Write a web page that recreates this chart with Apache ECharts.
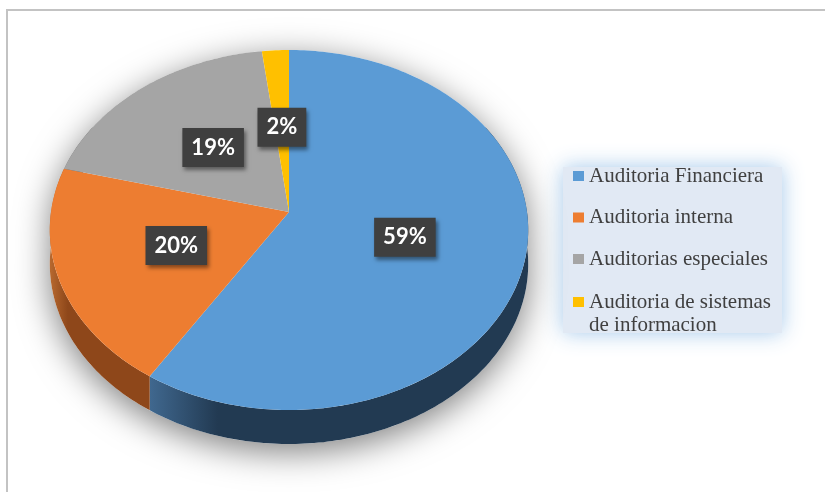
<!DOCTYPE html>
<html>
<head>
<meta charset="utf-8">
<script src="https://cdn.jsdelivr.net/npm/echarts@6/dist/echarts.min.js"></script>
<style>
  html, body { margin: 0; padding: 0; background: #fff; }
  #chart { width: 825px; height: 492px; }
</style>
</head>
<body>
<div id="chart"></div>
<script>
// data
var names = ['Auditoria Financiera', 'Auditoria interna', 'Auditorias especiales', 'Auditoria de sistemas de informacion'];
var values = [59, 20, 19, 2];
var colors = ['#5B9BD5', '#ED7D31', '#A5A5A5', '#FFC000'];
// side wall shades (light -> dark)
var wallColors = [['#40688f', '#223a52'], ['#b8692f', '#8e471a'], ['#7a7a7a', '#5e5e5e'], ['#c79600', '#a07800']];

// tilted-disc projection (layout only)
var CX = 289, CY = 212, A = 238, B = 178.2, K = -0.1, DEPTH = 34;
var WALL_FROM = Math.PI / 3, WALL_TO = Math.PI * 5 / 3;

var total = values.reduce(function (a, b) { return a + b; }, 0);
var cum = [];
var acc = 0;
values.forEach(function (v) { cum.push(acc); acc += v; });

function proj(theta, f, drop) {
    var u = f * Math.sin(theta), v = -f * Math.cos(theta);
    var w = 1 + K * v;
    return [CX + A * u / w, CY + B * v / w + (drop || 0)];
}
function arc(t0, t1, drop) {
    var pts = [];
    var n = Math.max(2, Math.ceil((t1 - t0) / (Math.PI / 180)));
    for (var i = 0; i <= n; i++) {
        pts.push(proj(t0 + (t1 - t0) * i / n, 1, drop));
    }
    return pts;
}

function renderItem(params, api) {
    var i = params.dataIndex;
    var t0 = api.value(1) / total * Math.PI * 2;
    var t1 = (api.value(1) + api.value(0)) / total * Math.PI * 2;
    var children = [];

    if (i === 0) {
        // soft shadow under the whole disc
        var outline = arc(-Math.PI / 2, Math.PI / 2, 0).concat(arc(Math.PI / 2, Math.PI * 3 / 2, DEPTH));
        children.push({
            type: 'polygon', z2: 0, silent: true,
            shape: { points: outline },
            style: { fill: '#ffffff', shadowBlur: 34, shadowColor: 'rgba(0,0,0,0.5)', shadowOffsetY: 8 }
        });
    }

    var w0 = Math.max(t0, WALL_FROM), w1 = Math.min(t1, WALL_TO);
    if (w1 > w0) {
        var top = arc(w0, w1, 0);
        var bottom = arc(w0, w1, DEPTH).reverse();
        children.push({
            type: 'polygon', z2: 1,
            shape: { points: top.concat(bottom) },
            style: {
                fill: new echarts.graphic.LinearGradient(0, 0, 1, 0, [
                    { offset: 0, color: wallColors[i][0] },
                    { offset: 0.18, color: wallColors[i][1] },
                    { offset: 1, color: wallColors[i][1] }
                ])
            }
        });
    }

    children.push({
        type: 'polygon', z2: 5,
        shape: { points: [proj(0, 0, 0)].concat(arc(t0, t1, 0)) },
        style: { fill: colors[i] }
    });

    var p = proj((t0 + t1) / 2, 0.5, 0);
    children.push({
        type: 'text', z2: 10, x: p[0], y: p[1],
        style: {
            text: Math.round(api.value(0) / total * 100) + '%',
            align: 'center', verticalAlign: 'middle',
            fill: '#ffffff', font: 'bold 22px Lato',
            backgroundColor: '#3f3f3f',
            padding: [9, 9, 8, 9],
            shadowBlur: 4, shadowColor: 'rgba(0,0,0,0.45)', shadowOffsetX: 2, shadowOffsetY: 3
        }
    });

    return { type: 'group', children: children };
}

var chart = echarts.init(document.getElementById('chart'));
var legendText = {
    fontFamily: 'Liberation Serif', fontSize: 21, color: '#404040', lineHeight: 23
};
var option = {
    backgroundColor: '#ffffff',
    animation: false,
    graphic: [
        {
            type: 'rect', z: 0, silent: true,
            shape: { x: 7, y: 10, width: 830, height: 520 },
            style: { fill: 'none', stroke: '#c3c3c3', lineWidth: 2 }
        },
        {
            type: 'rect', z: 0, silent: true,
            shape: { x: 563, y: 167, width: 219, height: 166 },
            style: { fill: '#e1e9f4', shadowBlur: 20, shadowColor: 'rgba(160,198,234,0.95)' }
        }
    ],
    legend: [
        {
            orient: 'vertical', left: 568, top: 159.5,
            icon: 'rect', itemWidth: 11, itemHeight: 10, itemGap: 18.5,
            textStyle: legendText,
            data: names.slice(0, 3)
        },
        {
            orient: 'vertical', left: 568, top: 262.5,
            icon: 'rect', itemWidth: 11, itemHeight: 10,
            textStyle: legendText,
            formatter: function () { return '\nAuditoria de sistemas\nde informacion'; },
            data: names.slice(3)
        }
    ],
    series: [
        {
            type: 'custom',
            coordinateSystem: 'none',
            renderItem: renderItem,
            data: values.map(function (v, i) {
                return { name: names[i], value: [v, cum[i]] };
            })
        },
        {
            // only feeds the legend its colours
            type: 'pie', silent: true,
            radius: [0, 0], center: [-200, -200],
            label: { show: false }, labelLine: { show: false },
            data: values.map(function (v, i) {
                return { name: names[i], value: v, itemStyle: { color: colors[i] } };
            })
        }
    ]
};
chart.setOption(option);
</script>
</body>
</html>
